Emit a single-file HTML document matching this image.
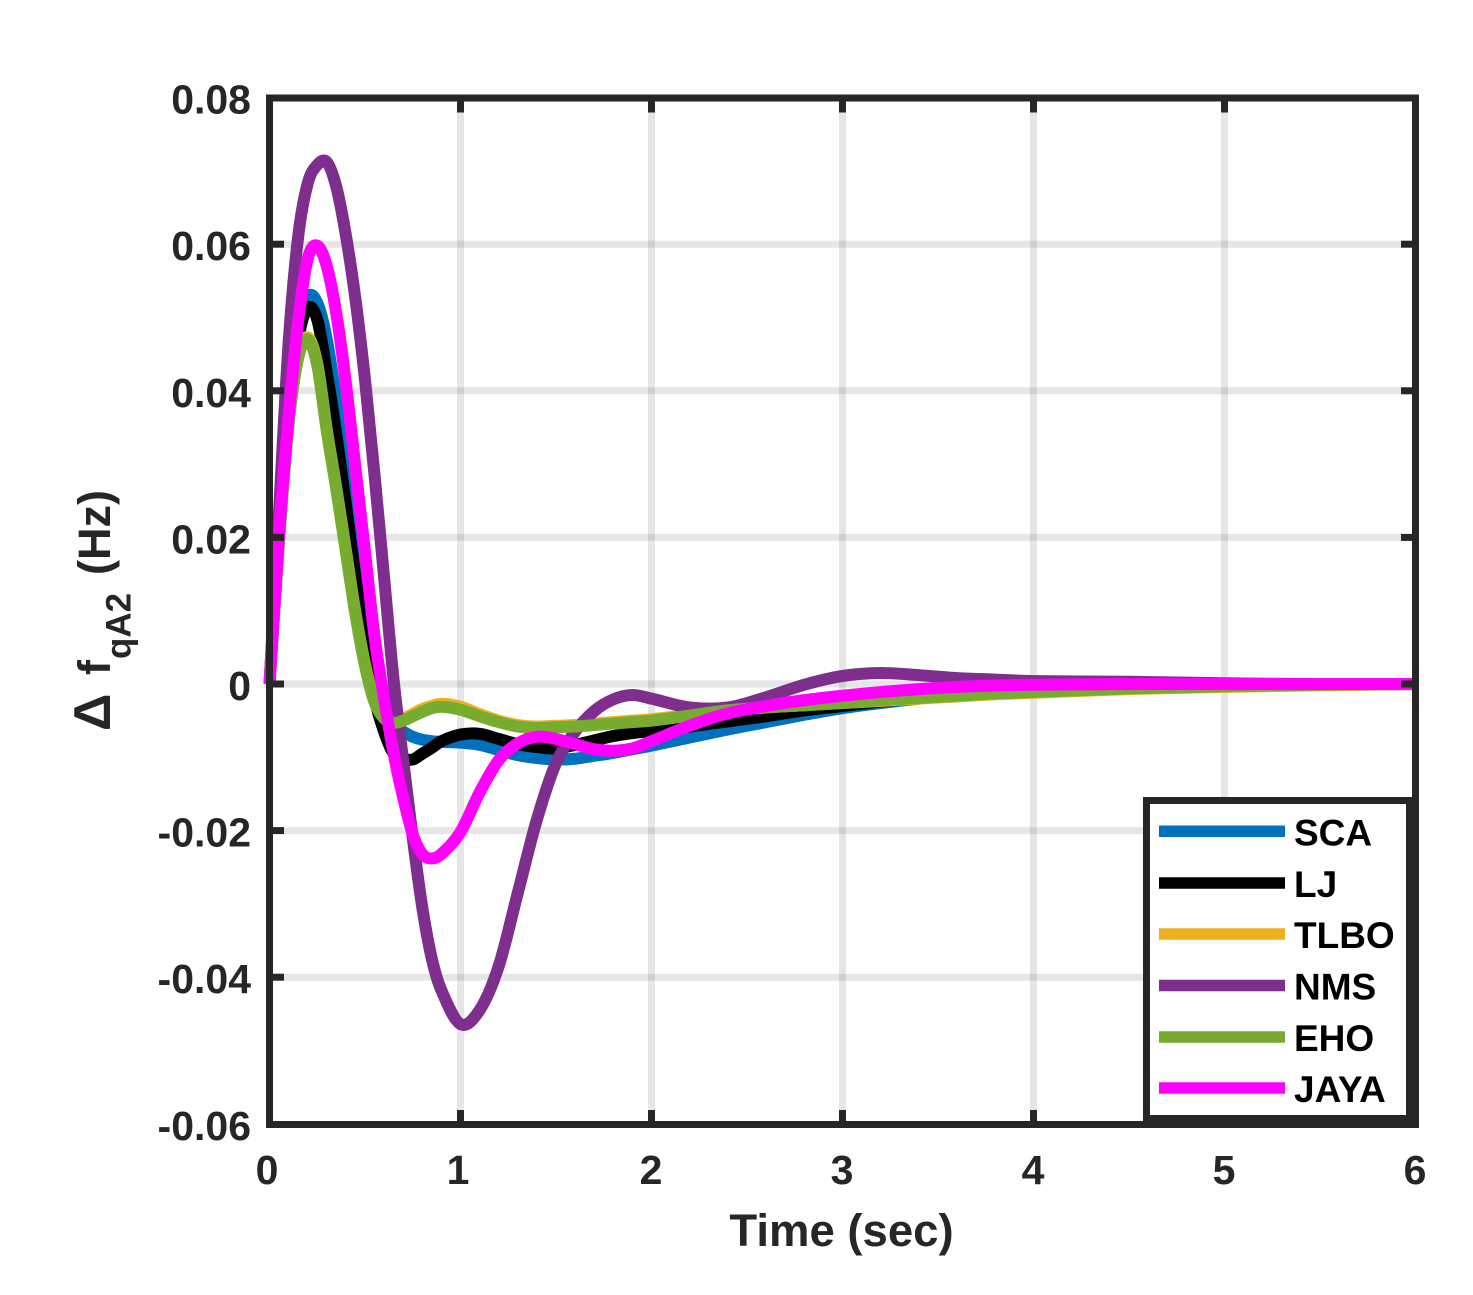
<!DOCTYPE html>
<html>
<head>
<meta charset="utf-8">
<title>Delta f qA2 response</title>
<style>
html,body{margin:0;padding:0;background:#fff;width:1473px;height:1295px;overflow:hidden}
svg{display:block}
text{font-family:"Liberation Sans",Arial,sans-serif;font-weight:bold;fill:#262626}
</style>
</head>
<body>
<svg id="chart" xmlns="http://www.w3.org/2000/svg" width="1473" height="1295" viewBox="0 0 1473 1295">
<rect x="0" y="0" width="1473" height="1295" fill="#fff"/>
<g id="grid"></g>
<g id="series"></g>
<g id="ticks"></g>
<rect x="269.5" y="98" width="1146" height="1026.5" fill="none" stroke="#262626" stroke-width="7"/>
<g id="tick-labels"></g>
<text x="841.5" y="1246" font-size="45.5" text-anchor="middle">Time (sec)</text>
<g>
<text transform="translate(110,731) rotate(-90)" font-size="52">Δ</text>
<text transform="translate(110,675) rotate(-90)" font-size="45">f</text>
<text transform="translate(130.5,659) rotate(-90)" font-size="35">qA2</text>
<text transform="translate(110,575) rotate(-90)" font-size="45">(Hz)</text>
</g>
<g id="legend">
<rect x="1146.5" y="800.5" width="263" height="318" fill="#fff" stroke="#262626" stroke-width="7"/>
</g>
</svg>
<script>
var timeValues = [0,0.05,0.1,0.15,0.2,0.25,0.3,0.35,0.4,0.45,0.5,0.55,0.6,0.65,0.7,0.75,0.8,0.85,0.9,1,1.1,1.2,1.3,1.4,1.5,1.6,1.7,1.8,1.9,2,2.2,2.4,2.6,2.8,3,3.2,3.4,3.6,3.8,4,4.5,5,5.5,6];
var scaValues = [0,0.02,0.037,0.048,0.0528,0.052,0.047,0.0385,0.028,0.0175,0.0075,-0.0005,-0.004,-0.0056,-0.0065,-0.0072,-0.0076,-0.0078,-0.0079,-0.008,-0.0083,-0.009,-0.0097,-0.0101,-0.0103,-0.0102,-0.0098,-0.0094,-0.0089,-0.0084,-0.0073,-0.0062,-0.0052,-0.0042,-0.0033,-0.0026,-0.002,-0.0015,-0.0012,-0.001,-0.0005,-0.0002,-0.0001,0];
var ljValues = [0,0.02,0.037,0.047,0.0513,0.0497,0.0425,0.034,0.0245,0.0145,0.0055,-0.002,-0.0065,-0.0095,-0.0102,-0.0103,-0.0095,-0.0087,-0.0078,-0.0069,-0.0068,-0.0075,-0.0082,-0.0086,-0.0088,-0.0083,-0.0077,-0.0071,-0.0067,-0.0064,-0.0058,-0.0051,-0.0044,-0.0036,-0.003,-0.0024,-0.0019,-0.0015,-0.0012,-0.0009,-0.0005,-0.0002,-0.0001,0];
var tlboValues = [0,0.0195,0.0355,0.0445,0.0473,0.0437,0.0347,0.0267,0.0182,0.0097,0.0027,-0.0023,-0.0044,-0.005,-0.0047,-0.0041,-0.0034,-0.003,-0.0027,-0.0031,-0.0041,-0.005,-0.0056,-0.0058,-0.0057,-0.0056,-0.0054,-0.0052,-0.005,-0.0048,-0.0042,-0.0036,-0.0032,-0.0029,-0.0026,-0.0023,-0.002,-0.0017,-0.0014,-0.0012,-0.0007,-0.0004,-0.0002,0];
var nmsValues = [0,0.0235,0.0465,0.061,0.0683,0.0708,0.0712,0.0678,0.0612,0.0525,0.0415,0.0285,0.0145,0.0005,-0.0105,-0.021,-0.0305,-0.0375,-0.0418,-0.0464,-0.0445,-0.0385,-0.0285,-0.0185,-0.0108,-0.0065,-0.0037,-0.0021,-0.0015,-0.002,-0.0032,-0.0032,-0.0018,-0.0001,0.0011,0.0015,0.0012,0.0008,0.0006,0.0004,0.0003,0.0001,0,0];
var ehoValues = [0,0.0195,0.0355,0.0445,0.047,0.0435,0.0345,0.0265,0.018,0.0095,0.0025,-0.0025,-0.0047,-0.0053,-0.005,-0.0044,-0.0038,-0.0033,-0.0031,-0.0035,-0.0044,-0.0052,-0.0058,-0.006,-0.0059,-0.0058,-0.0056,-0.0054,-0.0052,-0.005,-0.0043,-0.0036,-0.0032,-0.0029,-0.0026,-0.0022,-0.0019,-0.0016,-0.0013,-0.0011,-0.0006,-0.0003,-0.0001,0];
var jayaValues = [0,0.0205,0.0365,0.0495,0.058,0.0598,0.057,0.0505,0.041,0.0295,0.018,0.0065,-0.002,-0.0095,-0.0155,-0.0205,-0.0232,-0.0238,-0.0232,-0.0202,-0.0148,-0.0104,-0.0081,-0.0072,-0.0075,-0.0082,-0.0089,-0.0091,-0.0088,-0.0078,-0.0057,-0.004,-0.003,-0.0022,-0.0016,-0.0011,-0.0007,-0.0004,-0.0002,-0.0001,0,0,0,0];
var seriesNames = ["SCA","LJ","TLBO","NMS","EHO","JAYA"];
var seriesColors = ["#0072bd","#000000","#edb120","#7e2f8e","#77ac30","#ff00ff"];
var xTicks = [0,1,2,3,4,5,6];
var yTicks = [0.08,0.06,0.04,0.02,0,-0.02,-0.04,-0.06];
var yTickLabels = ["0.08","0.06","0.04","0.02","0","-0.02","-0.04","-0.06"];

var SVGNS = "http://www.w3.org/2000/svg";
function xScale(t){ return 269.5 + 191 * t; }
function yScale(v){ return 684 - 7330 * v; }
function make(tag, attrs, parent){
  var el = document.createElementNS(SVGNS, tag);
  for (var k in attrs) el.setAttribute(k, attrs[k]);
  parent.appendChild(el);
  return el;
}
function smoothPath(ts, vs){
  var pts = ts.map(function(t, i){ return [xScale(t), yScale(vs[i])]; });
  var d = "M" + pts[0][0].toFixed(2) + " " + pts[0][1].toFixed(2);
  for (var i = 0; i < pts.length - 1; i++){
    var p0 = pts[Math.max(i - 1, 0)], p1 = pts[i], p2 = pts[i + 1], p3 = pts[Math.min(i + 2, pts.length - 1)];
    var h1 = (p2[0] - p1[0]) / Math.max(p2[0] - p0[0], 0.001);
    var h2 = (p2[0] - p1[0]) / Math.max(p3[0] - p1[0], 0.001);
    var c1x = p1[0] + (p2[0] - p0[0]) * h1 / 3, c1y = p1[1] + (p2[1] - p0[1]) * h1 / 3;
    var c2x = p2[0] - (p3[0] - p1[0]) * h2 / 3, c2y = p2[1] - (p3[1] - p1[1]) * h2 / 3;
    d += "C" + c1x.toFixed(2) + " " + c1y.toFixed(2) + " " + c2x.toFixed(2) + " " + c2y.toFixed(2) + " " + p2[0].toFixed(2) + " " + p2[1].toFixed(2);
  }
  return d;
}

var gridGroup = document.getElementById("grid");
var tickGroup = document.getElementById("ticks");
var labelGroup = document.getElementById("tick-labels");
var seriesGroup = document.getElementById("series");
var legendGroup = document.getElementById("legend");

xTicks.forEach(function(t){
  var x = xScale(t);
  if (t > 0 && t < 6){
    var g = make("line", {x1:x, x2:x, y1:98, y2:1124.5, stroke:"#262626", "stroke-opacity":"0.115", "stroke-width":7}, gridGroup);
    
    
    var tk1 = make("line", {x1:x, x2:x, y1:1124.5, y2:1110, stroke:"#262626", "stroke-width":7}, tickGroup);
    
    
    var tk2 = make("line", {x1:x, x2:x, y1:98, y2:112.5, stroke:"#262626", "stroke-width":7}, tickGroup);
    
    
  }
  var lb = make("text", {x:x - (t <= 1 ? 2.5 : 0.5), y:1184, "font-size":41, "text-anchor":"middle"}, labelGroup);
  
  
  lb.textContent = String(t);
});
yTicks.forEach(function(v, i){
  var y = yScale(v);
  if (i > 0 && i < yTicks.length - 1){
    var g = make("line", {x1:269.5, x2:1415.5, y1:y, y2:y, stroke:"#262626", "stroke-opacity":"0.115", "stroke-width":7}, gridGroup);
    
    
    var tk1 = make("line", {x1:269.5, x2:284, y1:y, y2:y, stroke:"#262626", "stroke-width":7}, tickGroup);
    
    
    var tk2 = make("line", {x1:1415.5, x2:1401, y1:y, y2:y, stroke:"#262626", "stroke-width":7}, tickGroup);
    
    
  }
  var lb = make("text", {x:251, y:y + 16, "font-size":41, "text-anchor":"end"}, labelGroup);
  
  
  lb.textContent = yTickLabels[i];
});

var allSeries = [scaValues, ljValues, tlboValues, nmsValues, ehoValues, jayaValues];
allSeries.forEach(function(vals, i){
  var p = make("path", {d:smoothPath(timeValues, vals), fill:"none", stroke:seriesColors[i], "stroke-width":12, "stroke-linejoin":"round"}, seriesGroup);
  
  
});

var legendRows = [831.3, 883, 934, 985.5, 1037, 1088];
seriesNames.forEach(function(name, i){
  var y = legendRows[i];
  var ln = make("line", {x1:1159, x2:1285, y1:y, y2:y, stroke:seriesColors[i], "stroke-width":11.5}, legendGroup);
  
  
  var tx = make("text", {x:1294, y:y + 14, "font-size":37, style:"fill:#000"}, legendGroup);
  
  
  tx.textContent = name;
});
</script>
</body>
</html>
